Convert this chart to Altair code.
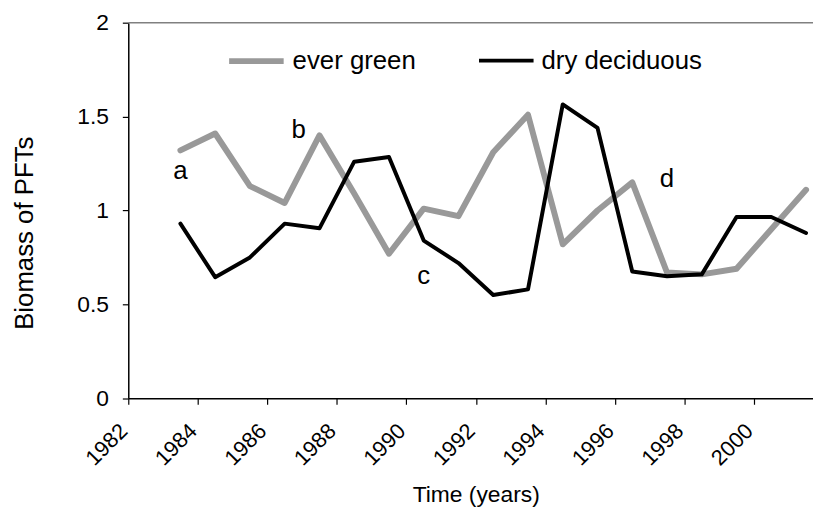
import altair as alt
import pandas as pd

# ---- data ----
years = list(range(1983, 2002))
ever_green = [1.32, 1.41, 1.13, 1.04, 1.40, 1.09, 0.77, 1.01, 0.97, 1.31,
              1.51, 0.82, 1.00, 1.15, 0.67, 0.66, 0.69, 0.90, 1.11]
dry_deciduous = [0.93, 0.645, 0.75, 0.93, 0.905, 1.26, 1.285, 0.84, 0.72, 0.55,
                 0.58, 1.565, 1.44, 0.675, 0.65, 0.66, 0.965, 0.965, 0.88]
series_names = ["ever green", "dry deciduous"]
series_colors = ["#999999", "#000000"]
series_widths = [6, 4]

x_label_years = [1982, 1984, 1986, 1988, 1990, 1992, 1994, 1996, 1998, 2000]
x_tick_bounds = [y - 0.5 for y in range(1982, 2002)]   # category boundaries
y_ticks = [0, 0.5, 1, 1.5, 2]

note_text = ["a", "b", "c", "d"]
note_year = [1983, 1986.4, 1990, 1997]
note_value = [1.21, 1.43, 0.65, 1.17]

FONT = "Liberation Sans"

rows = []
for name, vals in zip(series_names, [ever_green, dry_deciduous]):
    for yr, v in zip(years, vals):
        rows.append({"year": yr, "value": v, "series": name})
df = pd.DataFrame(rows)
notes_df = pd.DataFrame({"year": note_year, "value": note_value, "txt": note_text})
top_df = pd.DataFrame({"value": [max(y_ticks)]})

x_scale = alt.Scale(domain=[1981.5, 2001.2], nice=False, zero=False)
y_scale = alt.Scale(domain=[0, 2], nice=False)

label_list = "[" + ",".join(str(v) for v in x_label_years) + "]"
x_axis = alt.Axis(
    values=x_tick_bounds,
    labelExpr=f"indexof({label_list}, datum.value + 0.5) >= 0 ? '' + (datum.value + 0.5) : ''",
    labelAngle=315, labelAlign="right", labelBaseline="middle",
    labelPadding=23, labelOffset=-5, labelOverlap=False, labelFlush=False,
    labelFont=FONT, labelFontSize=22, labelColor="black",
    tickSize=6, tickColor="black", tickWidth=1.2,
    domainColor="black", domainWidth=1.5, grid=False,
    title="Time (years)", titleFont=FONT, titleFontSize=23, titleFontWeight=400,
    titleColor="black", titleX=350.4, titleY=104, titleBaseline="alphabetic",
    titleAlign="center", titleAngle=0,
)
y_axis = alt.Axis(
    values=y_ticks, format="~g",
    labelFont=FONT, labelFontSize=23, labelColor="black", labelPadding=14,
    labelBaseline="middle",
    tickSize=6, tickColor="black", tickWidth=1.2,
    domainColor="black", domainWidth=1.5, grid=False,
    title="Biomass of PFTs", titleFont=FONT, titleFontSize=26, titleFontWeight=400,
    titleColor="black", titleAngle=270, titleX=-96.3, titleY=211.8,
    titleBaseline="alphabetic", titleAlign="center",
)

legend_kw = dict(
    orient="none", legendX=98.7, legendY=8, direction="horizontal", title=None,
    symbolType="stroke", symbolSize=3025, labelFont=FONT, labelFontSize=26,
    labelColor="black", labelOffset=6, columnPadding=55, padding=0,
    symbolOpacity=1, labelLimit=0,
)

lines = alt.Chart(df).mark_line(strokeCap="round", strokeJoin="round").encode(
    x=alt.X("year:Q", scale=x_scale, axis=x_axis),
    y=alt.Y("value:Q", scale=y_scale, axis=y_axis),
    color=alt.Color("series:N", scale=alt.Scale(domain=series_names, range=series_colors),
                    legend=alt.Legend(**legend_kw)),
    strokeWidth=alt.StrokeWidth("series:N", scale=alt.Scale(domain=series_names, range=series_widths),
                                legend=alt.Legend(**legend_kw)),
    order="year:Q",
)

top_rule = alt.Chart(top_df).mark_rule(color="#808080", strokeWidth=1.5).encode(
    y=alt.Y("value:Q", scale=y_scale),
)

notes = alt.Chart(notes_df).mark_text(font=FONT, fontSize=26, color="black",
                                      align="center", baseline="middle").encode(
    x=alt.X("year:Q", scale=x_scale),
    y=alt.Y("value:Q", scale=y_scale),
    text="txt:N",
)

chart = alt.layer(top_rule, lines, notes).properties(
    width=690.5, height=378.8,
    autosize=alt.AutoSizeParams(type="none"),
    padding={"left": 121.3, "top": 12.7, "right": 0, "bottom": 107.5},
    background="white",
).configure_view(stroke=None)

chart.save("out.html", embed_options={"renderer": "svg", "actions": False})
